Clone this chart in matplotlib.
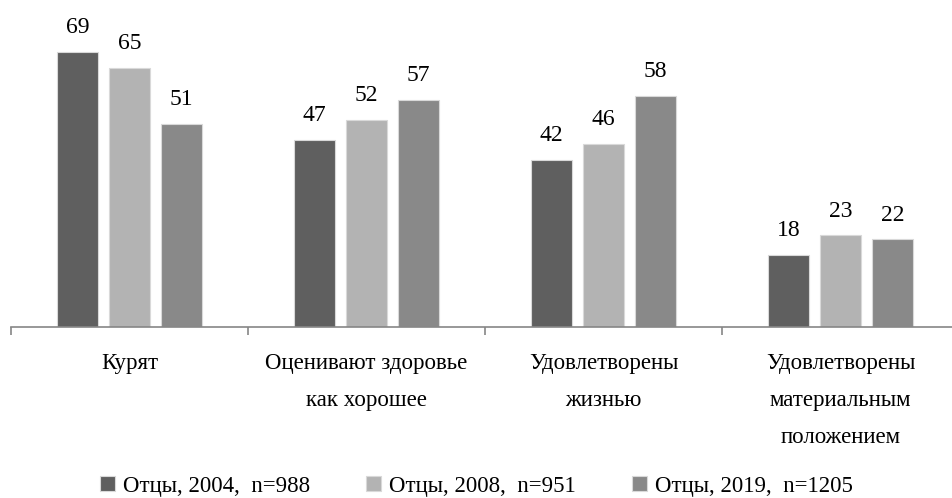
import matplotlib
matplotlib.use("Agg")
import matplotlib.pyplot as plt
import numpy as np

categories = ["Курят", "Оценивают здоровье\nкак хорошее", "Удовлетворены\nжизнью",
              "Удовлетворены\nматериальным\nположением"]
series_names = ["Отцы, 2004,  n=988", "Отцы, 2008,  n=951", "Отцы, 2019,  n=1205"]
values_2004 = [69, 47, 42, 18]
values_2008 = [65, 52, 46, 23]
values_2019 = [51, 57, 58, 22]
colors = ["#5f5f5f", "#b3b3b3", "#898989"]

plt.rcParams["font.family"] = ["Liberation Serif", "DejaVu Serif"]

fig = plt.figure(figsize=(9.52, 4.98), dpi=100)
ax = fig.add_axes([11 / 952, 171 / 498, 941 / 952, 327 / 498])

x = np.arange(len(categories))
step = 0.22
width = 0.173
all_values = [values_2004, values_2008, values_2019]
for k, (vals, name, col) in enumerate(zip(all_values, series_names, colors)):
    bars = ax.bar(x + (k - 1) * step, vals, width, color=col, label=name,
                  edgecolor="#d9d9d9", linewidth=0.8)
    for b, v in zip(bars, vals):
        ax.text(b.get_x() + b.get_width() / 2, v + 4.7, str(v),
                ha="center", va="baseline", fontsize=17)

ax.set_xlim(-0.5, -0.5 + 941 / 237)
ax.set_ylim(0, 82)
for s in ["top", "right", "left"]:
    ax.spines[s].set_visible(False)
ax.spines["bottom"].set_color("#868686")
ax.spines["bottom"].set_linewidth(1.2)
ax.set_yticks([])
ax.set_xticks(x)
ax.set_xticklabels(categories, fontsize=16.5, linespacing=2.0)
ax.tick_params(axis="x", which="major", length=0, pad=18.5)
ax.set_xticks(np.arange(len(categories)) - 0.5, minor=True)
ax.tick_params(axis="x", which="minor", length=6, color="#868686", width=1.2)

fig.legend(loc="center", bbox_to_anchor=(0.5, 12 / 498), ncol=3, frameon=False,
           fontsize=16.5, handlelength=0.65, handleheight=0.65, handletextpad=0.35,
           columnspacing=2.45)

fig.savefig("out.png", dpi=100)
